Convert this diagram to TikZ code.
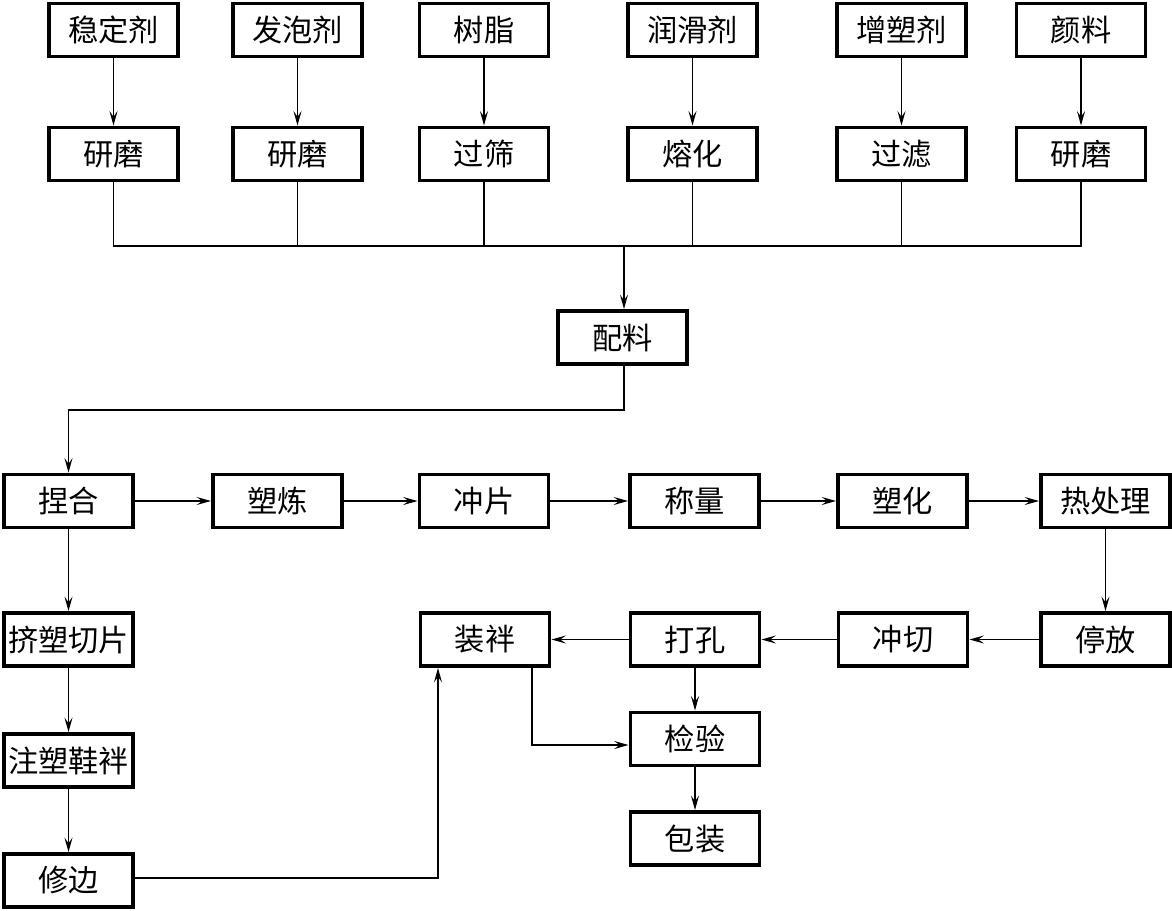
\documentclass[tikz,border=0pt]{standalone}
\usepackage{fontspec}
\newfontfamily\cjk{Noto Sans CJK SC}
\usetikzlibrary{arrows.meta}

\begin{document}
\begin{tikzpicture}[
        x=0.025cm, y=-0.025cm,
        >={Stealth[length=3.6mm, width=2mm, inset=1.4mm]},
        box/.style={
            rectangle,
            draw=black,
            line width=2.8pt,
            minimum width=3.225cm,
            minimum height=1.325cm,
            inner sep=0pt,
            fill=white,
            font=\cjk\fontsize{21.5}{24}\selectfont
        },
        link/.style={
            line width=1.1pt,
            draw=black
        },
        arrow/.style={
            link,
            ->
        }
    ]

    \useasboundingbox (0,0) rectangle (1172,910);

    \node[box] (stab)  at (113.5,30) {稳定剂};
    \node[box] (foam)  at (297.5,30) {发泡剂};
    \node[box] (resin) at (484,30)   {树脂};
    \node[box] (lube)  at (692.5,30) {润滑剂};
    \node[box] (plast) at (901.5,30) {增塑剂};
    \node[box] (pigm)  at (1081,30)  {颜料};

    \node[box] (grind1) at (113.5,154) {研磨};
    \node[box] (grind2) at (297.5,154) {研磨};
    \node[box] (sieve)  at (484,154)   {过筛};
    \node[box] (melt)   at (692.5,154) {熔化};
    \node[box] (filter) at (901.5,154) {过滤};
    \node[box] (grind3) at (1081,154)  {研磨};

    \node[box] (batch) at (622.5,337.5) {配料};

    \node[box] (knead)    at (68.5,501)   {捏合};
    \node[box] (mill)     at (277.5,501)  {塑炼};
    \node[box] (punch)    at (484,501)    {冲片};
    \node[box] (weigh)    at (694.5,501)  {称量};
    \node[box] (plastify) at (902.5,501)  {塑化};
    \node[box] (heat)     at (1105.5,501) {热处理};

    \node[box] (extrude)  at (68.5,639.5)   {挤塑切片};
    \node[box] (assemble) at (485,639.5)    {装袢};
    \node[box] (drill)    at (695,639.5)    {打孔};
    \node[box] (cut)      at (903,639.5)    {冲切};
    \node[box] (rest)     at (1105.5,639.5) {停放};

    \node[box] (inspect) at (695,739)   {检验};
    \node[box] (pack)    at (695,838.5) {包装};

    \node[box] (inject) at (68.5,760.5) {注塑鞋袢};
    \node[box] (trim)   at (68.5,880.5) {修边};

    \coordinate (bus)  at (624,246);
    \coordinate (turn) at (624,410);

    \draw[arrow] (stab) -- (grind1);
    \draw[arrow] (foam) -- (grind2);
    \draw[arrow] (resin) -- (sieve);
    \draw[arrow] (lube) -- (melt);
    \draw[arrow] (plast) -- (filter);
    \draw[arrow] (pigm) -- (grind3);

    \draw[link] (grind1.south) -- (grind1.south |- bus) -- (grind3.south |- bus) -- (grind3.south);
    \draw[link] (grind2.south) -- (grind2.south |- bus);
    \draw[link] (sieve.south) -- (sieve.south |- bus);
    \draw[link] (melt.south) -- (melt.south |- bus);
    \draw[link] (filter.south) -- (filter.south |- bus);
    \draw[arrow] (bus) -- (batch.north -| bus);

    \draw[arrow] (batch.south -| turn) -- (turn) -| (knead.north);

    \draw[arrow] (knead) -- (mill);
    \draw[arrow] (mill) -- (punch);
    \draw[arrow] (punch) -- (weigh);
    \draw[arrow] (weigh) -- (plastify);
    \draw[arrow] (plastify) -- (heat);
    \draw[arrow] (heat) -- (rest);

    \draw[arrow] (rest) -- (cut);
    \draw[arrow] (cut) -- (drill);
    \draw[arrow] (drill) -- (assemble);
    \draw[arrow] (drill) -- (inspect);
    \draw[arrow] (inspect) -- (pack);
    \draw[arrow] ([xshift=1.175cm]assemble.south) |- ([yshift=-0.15cm]inspect.west);

    \draw[arrow] (knead) -- (extrude);
    \draw[arrow] (extrude) -- (inject);
    \draw[arrow] (inject) -- (trim);
    \draw[arrow] ([yshift=0.06cm]trim.east) -| ([xshift=-1.175cm]assemble.south);

\end{tikzpicture}
\end{document}
